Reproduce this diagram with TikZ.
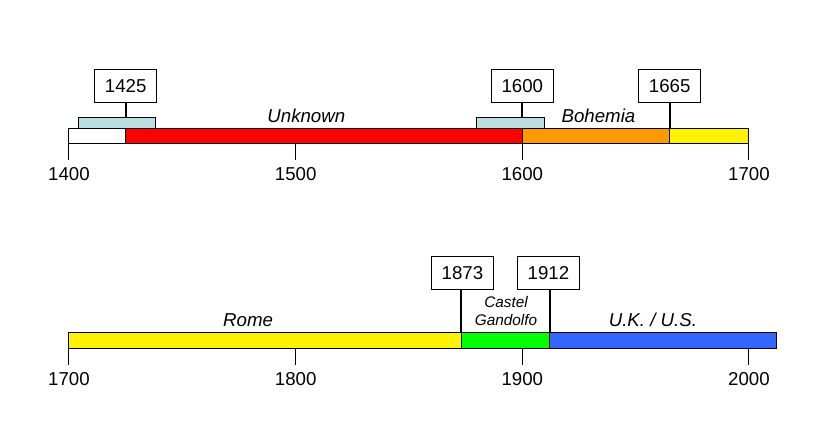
\documentclass[tikz,border=0pt]{standalone}
\usepackage{fontspec}
\setmainfont{Liberation Sans}
\definecolor{uncert}{RGB}{187,222,226}
\definecolor{bohemia}{RGB}{255,153,0}
\definecolor{ukus}{RGB}{51,102,255}
\tikzset{
  yearbox/.style = {draw, fill=white, line width=0.75pt, minimum width=46.5pt,
                    minimum height=24.75pt, inner sep=0pt, font=\fontsize{14}{16}\selectfont},
  ticklab/.style = {anchor=base, font=\fontsize{14}{16}\selectfont},
  place/.style   = {anchor=base, font=\fontsize{14}{16}\selectfont\itshape},
  leader/.style  = {line width=1.5pt},
  seg/.style     = {draw, line width=0.75pt}
}

\begin{document}
\begin{tikzpicture}[x=0.75pt, y=-0.75pt]
    \useasboundingbox (0,0) rectangle (840,448);

    % 1400 -- 1700
    \begin{scope}[x=1.7pt, xshift=-2328.25pt]
        \foreach \a/\b/\c in {1400/1425/white, 1425/1600/red, 1600/1665/bohemia, 1665/1700/yellow}
            \draw[seg, fill=\c] (\a,129) rectangle (\b,144);
        \draw[seg, fill=uncert] (1404,118) rectangle (1438,129);
        \draw[seg, fill=uncert] (1580,118) rectangle (1610,129);
        \foreach \t in {1400,1500,1600,1700} {
            \draw[line width=0.75pt] (\t,144) -- (\t,160);
            \node[ticklab] (t\t) at (\t,181) {\t};
        }

        \node[yearbox] (y1425) at (1425,86.5) {1425};
        \node[yearbox] (y1600) at (1600,86.5) {1600};
        \node[yearbox] (y1665) at (1665,86.5) {1665};
        \coordinate (u1425) at (1425,118);
        \coordinate (u1600) at (1600,118);
        \coordinate (b1665) at (1665,129);
        \draw[leader] (y1425.south) -- (u1425);
        \draw[leader] (y1600.south) -- (u1600);
        \draw[leader] (y1665.south) -- (b1665);

        \node[place] (unknown) at (1504.7,122.5) {Unknown};
        \node[place] (bohemia) at (1633.6,122.5) {Bohemia};
    \end{scope}

    % 1700 -- 2012
    \begin{scope}[x=1.7pt, xshift=-2838.25pt]
        \foreach \a/\b/\c in {1700/1873/yellow, 1873/1912/green, 1912/2012/ukus}
            \draw[seg, fill=\c] (\a,333) rectangle (\b,349);
        \foreach \t in {1700,1800,1900,2000} {
            \draw[line width=0.75pt] (\t,349) -- (\t,365);
            \node[ticklab] (t\t) at (\t,386) {\t};
        }

        \node[yearbox] (y1873) at (1873.6,273.5) {1873};
        \node[yearbox] (y1912) at (1911.5,273.5) {1912};
        \coordinate (b1873) at (1873,333);
        \coordinate (b1912) at (1912,333);
        \draw[leader] (y1873.south -| b1873) -- (b1873);
        \draw[leader] (y1912.south -| b1912) -- (b1912);

        \node[place] (rome) at (1779,326.5) {Rome};
        \node[place, font=\fontsize{11.5}{14}\selectfont\itshape, align=center]
            (castel) at (1892.8,326) {Castel\\Gandolfo};
        \node[place] (ukus) at (1957.6,326.5) {U.K. / U.S.};
    \end{scope}
\end{tikzpicture}
\end{document}
